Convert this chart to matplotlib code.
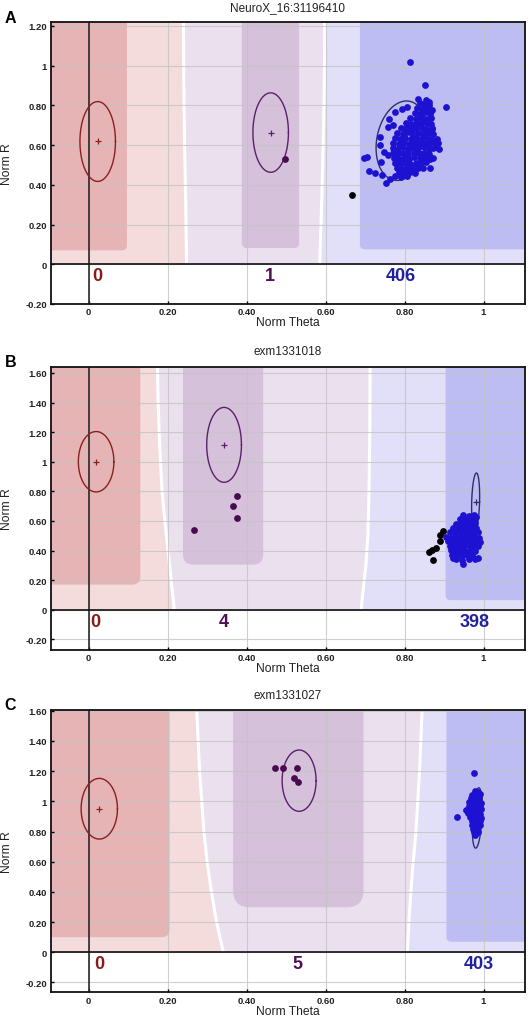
import numpy as np
import matplotlib
matplotlib.use("Agg")
import matplotlib.pyplot as plt
from matplotlib.patches import FancyBboxPatch

plt.rcParams['font.family'] = ['Liberation Sans', 'DejaVu Sans']

# ---------------- data ----------------
titles = ["NeuroX_16:31196410", "exm1331018", "exm1331027"]
panel_letters = ["A", "B", "C"]
genotypes = ["AA", "AB", "BB"]

xticks = [0, 0.2, 0.4, 0.6, 0.8, 1.0]
xtick_labels = ["0", "0.20", "0.40", "0.60", "0.80", "1"]
yticks_A = [-0.2, 0, 0.2, 0.4, 0.6, 0.8, 1.0, 1.2]
ytick_labels_A = ["-0.20", "0", "0.20", "0.40", "0.60", "0.80", "1", "1.20"]
yticks_BC = [-0.2, 0, 0.2, 0.4, 0.6, 0.8, 1.0, 1.2, 1.4, 1.6]
ytick_labels_BC = ["-0.20", "0", "0.20", "0.40", "0.60", "0.80", "1", "1.20", "1.40", "1.60"]

xlim = (-0.096, 1.105)
ylims = [(-0.2, 1.218), (-0.27, 1.642), (-0.265, 1.605)]

# genotype counts and the theta at which they are printed
counts_A = [0, 1, 406]
counts_B = [0, 4, 398]
counts_C = [0, 5, 403]
count_theta_A = [0.022, 0.460, 0.790]
count_theta_B = [0.018, 0.341, 0.978]
count_theta_C = [0.026, 0.529, 0.987]
count_r = [-0.058, -0.079, -0.077]

# cluster ellipses: (center theta, center R, half width, half height, shear)
ell_A = [(0.023, 0.618, 0.045, 0.201, 0.0), (0.461, 0.663, 0.045, 0.200, 0.0), (0.793, 0.622, 0.064, 0.200, 0.012)]
ell_B = [(0.019, 1.000, 0.045, 0.204, 0.0), (0.343, 1.114, 0.044, 0.253, 0.0), (0.980, 0.729, 0.010, 0.195, 0.002)]
ell_C = [(0.027, 0.951, 0.046, 0.201, 0.0), (0.533, 1.137, 0.043, 0.203, 0.0), (0.984, 0.890, 0.012, 0.200, 0.004)]

# call-region boundaries (theta, R) from top down to R = 0
bnd1_A_theta = [0.240, 0.241, 0.243, 0.246, 0.248]
bnd1_A_r = [1.30, 0.9, 0.6, 0.3, 0.0]
bnd2_A_theta = [0.598, 0.597, 0.594, 0.590, 0.585]
bnd2_A_r = [1.30, 0.9, 0.6, 0.3, 0.0]
bnd1_B_theta = [0.174, 0.176, 0.180, 0.186, 0.193, 0.201, 0.209, 0.217]
bnd1_B_r = [1.70, 1.4, 1.1, 0.8, 0.6, 0.4, 0.2, 0.0]
bnd2_B_theta = [0.713, 0.712, 0.710, 0.707, 0.702, 0.696, 0.690]
bnd2_B_r = [1.70, 1.2, 0.8, 0.5, 0.3, 0.15, 0.0]
bnd1_C_theta = [0.272, 0.281, 0.292, 0.300, 0.311, 0.324, 0.341]
bnd1_C_r = [1.70, 1.2, 0.8, 0.6, 0.4, 0.2, 0.0]
bnd2_C_theta = [0.846, 0.838, 0.829, 0.822, 0.816, 0.811, 0.807]
bnd2_C_r = [1.70, 1.2, 0.8, 0.6, 0.4, 0.2, 0.0]

# dark core regions: (left theta, right theta, bottom R)
core_A = [(-0.3, 0.097, 0.070), (0.388, 0.533, 0.082), (0.687, 1.3, 0.075)]
core_B = [(-0.3, 0.131, 0.170), (0.239, 0.442, 0.305), (0.904, 1.3, 0.065)]
core_C = [(-0.3, 0.205, 0.100), (0.366, 0.696, 0.298), (0.906, 1.3, 0.070)]
core_round_px = [(5, 5, 5), (8, 10, 5), (8, 17, 5)]

# samples (theta, R)
A_AB = [(0.497, 0.528)]
A_nc = [(0.668, 0.347)]
A_BB = [
    (0.813, 1.017), (0.853, 0.900), (0.906, 0.790),
    (0.835, 0.831), (0.855, 0.828), (0.793, 0.781), (0.776, 0.765), (0.761, 0.732), (0.758, 0.691),
    (0.738, 0.641), (0.738, 0.600), (0.747, 0.567), (0.704, 0.542), (0.698, 0.534), (0.741, 0.517),
    (0.710, 0.468), (0.725, 0.459), (0.742, 0.451), (0.753, 0.410), (0.763, 0.427), (0.776, 0.443),
    (0.865, 0.484), (0.873, 0.534), (0.877, 0.592), (0.882, 0.633), (0.869, 0.682), (0.865, 0.765),
    (0.852, 0.790), (0.884, 0.612), (0.886, 0.578), (0.862, 0.800), (0.806, 0.790), (0.790, 0.480),
    (0.757, 0.550), (0.770, 0.700),
    (0.838, 0.812), (0.851, 0.806), (0.862, 0.815),
    (0.831, 0.786), (0.845, 0.781), (0.858, 0.789), (0.869, 0.779),
    (0.826, 0.762), (0.839, 0.756), (0.852, 0.764), (0.864, 0.757),
    (0.814, 0.737), (0.829, 0.731), (0.841, 0.739), (0.854, 0.733), (0.866, 0.738),
    (0.803, 0.712), (0.817, 0.707), (0.829, 0.713), (0.842, 0.706), (0.856, 0.712), (0.867, 0.708),
    (0.790, 0.687), (0.804, 0.681), (0.816, 0.689), (0.830, 0.684), (0.843, 0.688), (0.855, 0.680), (0.869, 0.686),
    (0.781, 0.662), (0.795, 0.657), (0.807, 0.664), (0.820, 0.658), (0.834, 0.663), (0.846, 0.656), (0.860, 0.661), (0.872, 0.657),
    (0.776, 0.637), (0.789, 0.632), (0.802, 0.638), (0.816, 0.631), (0.828, 0.636), (0.842, 0.633), (0.854, 0.639), (0.867, 0.632),
    (0.772, 0.612), (0.785, 0.606), (0.798, 0.613), (0.811, 0.607), (0.824, 0.611), (0.837, 0.605), (0.850, 0.612), (0.863, 0.608), (0.875, 0.613),
    (0.770, 0.587), (0.783, 0.582), (0.796, 0.588), (0.809, 0.581), (0.822, 0.586), (0.835, 0.583), (0.848, 0.589), (0.861, 0.581), (0.873, 0.586),
    (0.771, 0.562), (0.784, 0.556), (0.797, 0.561), (0.810, 0.557), (0.823, 0.563), (0.836, 0.558), (0.849, 0.561), (0.862, 0.555),
    (0.773, 0.537), (0.786, 0.531), (0.799, 0.536), (0.812, 0.532), (0.825, 0.538), (0.838, 0.533), (0.851, 0.536), (0.864, 0.531),
    (0.776, 0.512), (0.789, 0.507), (0.802, 0.511), (0.815, 0.506), (0.828, 0.512), (0.841, 0.508), (0.854, 0.513),
    (0.781, 0.487), (0.794, 0.482), (0.807, 0.486), (0.820, 0.481), (0.833, 0.487), (0.846, 0.483),
    (0.787, 0.462), (0.800, 0.457), (0.813, 0.463), (0.826, 0.458),
    (0.792, 0.438), (0.806, 0.442),
    (0.818, 0.596), (0.830, 0.622), (0.806, 0.548), (0.842, 0.547), (0.819, 0.672), (0.843, 0.722),
    (0.794, 0.620), (0.856, 0.598), (0.806, 0.700), (0.828, 0.500), (0.797, 0.524), (0.855, 0.650),
]

B_AB = [(0.268, 0.540), (0.366, 0.703), (0.377, 0.770), (0.375, 0.617)]
B_nc = [(0.897, 0.530), (0.889, 0.505), (0.891, 0.465), (0.879, 0.415), (0.869, 0.404), (0.861, 0.392), (0.873, 0.335)]
B_BB = [
    (0.948, 0.640), (0.962, 0.634), (0.976, 0.642), (0.982, 0.625),
    (0.940, 0.612), (0.952, 0.606), (0.964, 0.613), (0.976, 0.607),
    (0.930, 0.582), (0.942, 0.577), (0.954, 0.584), (0.966, 0.578), (0.978, 0.583),
    (0.922, 0.552), (0.934, 0.547), (0.946, 0.553), (0.958, 0.548), (0.970, 0.554), (0.982, 0.549),
    (0.915, 0.522), (0.927, 0.517), (0.939, 0.523), (0.951, 0.518), (0.963, 0.524), (0.975, 0.519), (0.987, 0.522),
    (0.905, 0.492), (0.917, 0.487), (0.929, 0.493), (0.941, 0.488), (0.953, 0.494), (0.965, 0.489), (0.977, 0.492), (0.989, 0.487),
    (0.910, 0.462), (0.922, 0.457), (0.934, 0.463), (0.946, 0.458), (0.958, 0.464), (0.970, 0.459), (0.982, 0.462), (0.990, 0.456),
    (0.914, 0.432), (0.926, 0.427), (0.938, 0.433), (0.950, 0.428), (0.962, 0.434), (0.974, 0.429), (0.986, 0.431),
    (0.918, 0.402), (0.930, 0.397), (0.942, 0.403), (0.954, 0.398), (0.966, 0.404), (0.978, 0.399),
    (0.920, 0.372), (0.933, 0.367), (0.946, 0.373), (0.958, 0.368), (0.970, 0.372),
    (0.930, 0.342), (0.945, 0.336), (0.962, 0.345), (0.978, 0.340),
    (0.948, 0.312), (0.922, 0.352), (0.985, 0.350),
    (0.945, 0.505), (0.958, 0.478), (0.935, 0.445), (0.968, 0.418), (0.952, 0.565), (0.925, 0.385),
]

C_AB = [(0.473, 1.219), (0.492, 1.219), (0.527, 1.219), (0.519, 1.152), (0.531, 1.126)]
C_nc = []
C_BB = [
    (0.976, 1.186), (0.934, 0.895),
    (0.978, 1.070), (0.986, 1.064),
    (0.972, 1.045), (0.982, 1.041), (0.990, 1.047),
    (0.968, 1.020), (0.978, 1.016), (0.988, 1.022),
    (0.964, 0.995), (0.974, 0.991), (0.984, 0.997), (0.993, 0.992),
    (0.962, 0.970), (0.972, 0.966), (0.982, 0.972), (0.992, 0.967),
    (0.955, 0.945), (0.965, 0.941), (0.975, 0.947), (0.985, 0.942), (0.994, 0.946),
    (0.960, 0.920), (0.970, 0.916), (0.980, 0.922), (0.990, 0.917),
    (0.966, 0.895), (0.976, 0.891), (0.986, 0.897), (0.993, 0.892),
    (0.970, 0.870), (0.980, 0.866), (0.990, 0.871),
    (0.972, 0.845), (0.982, 0.841), (0.990, 0.846),
    (0.974, 0.820), (0.984, 0.816),
    (0.976, 0.795), (0.986, 0.799),
    (0.979, 0.775),
]

# which cluster centres show a '+'
show_center = [(True, True, False), (True, True, True), (True, False, False)]

# ---------------- style ----------------
light_fill = ["#f4dcdc", "#ebe1ee", "#e1e0f8"]
dark_fill = ["#e6b4b4", "#d5c1da", "#bdbdf4"]
ell_colors = ["#8a1f1f", "#5b1f6b", "#2e2e6e"]
count_colors = ["#8b1a1a", "#4e1050", "#22209c"]
pt_colors = {"AB": "#4a0a50", "BB": "#1d12d2", "nc": "#000000"}

W, H = 530, 1020
fig = plt.figure(figsize=(W / 100, H / 100), dpi=100)

# axes boxes in pixels (left, top, right, bottom)
boxes = [(50.7, 23.3, 525.0, 305.0), (50.7, 367.7, 525.0, 650.7), (50.7, 711.0, 525.0, 993.3)]

panels = [
    dict(ell=ell_A, counts=counts_A, ctheta=count_theta_A, b1=(bnd1_A_theta, bnd1_A_r), b2=(bnd2_A_theta, bnd2_A_r),
         core=core_A, AB=A_AB, BB=A_BB, nc=A_nc, yt=yticks_A, ytl=ytick_labels_A),
    dict(ell=ell_B, counts=counts_B, ctheta=count_theta_B, b1=(bnd1_B_theta, bnd1_B_r), b2=(bnd2_B_theta, bnd2_B_r),
         core=core_B, AB=B_AB, BB=B_BB, nc=B_nc, yt=yticks_BC, ytl=ytick_labels_BC),
    dict(ell=ell_C, counts=counts_C, ctheta=count_theta_C, b1=(bnd1_C_theta, bnd1_C_r), b2=(bnd2_C_theta, bnd2_C_r),
         core=core_C, AB=C_AB, BB=C_BB, nc=C_nc, yt=yticks_BC, ytl=ytick_labels_BC),
]

t = np.linspace(0, 2 * np.pi, 240)

for i, p in enumerate(panels):
    l, tp, r, b = boxes[i]
    ax = fig.add_axes([l / W, 1 - b / H, (r - l) / W, (b - tp) / H])
    ylim = ylims[i]
    ax.set_xlim(*xlim)
    ax.set_ylim(*ylim)
    ax.set_facecolor("white")

    px_theta = (r - l) / (xlim[1] - xlim[0])
    px_r = (b - tp) / (ylim[1] - ylim[0])
    asp = px_theta / px_r

    # light call regions
    b1t, b1r = p["b1"]
    b2t, b2r = p["b2"]
    ax.fill_betweenx(b1r, xlim[0] - 0.2, b1t, color=light_fill[0], lw=0, zorder=0.1)
    ax.fill(list(b1t) + list(b2t)[::-1], list(b1r) + list(b2r)[::-1], color=light_fill[1], lw=0, zorder=0.1)
    ax.fill_betweenx(b2r, b2t, xlim[1] + 0.2, color=light_fill[2], lw=0, zorder=0.1)

    # dark cores
    for k, (x0, x1, yb) in enumerate(p["core"]):
        rs = core_round_px[i][k] / px_theta
        patch = FancyBboxPatch((x0, yb), x1 - x0, ylim[1] + 0.5 - yb,
                               boxstyle=f"round,pad=0,rounding_size={rs}",
                               mutation_aspect=asp, fc=dark_fill[k], ec="none", zorder=0.2)
        ax.add_patch(patch)

    # white separators
    ax.plot(b1t, b1r, color="white", lw=2.2, zorder=0.3, solid_capstyle="butt")
    ax.plot(b2t, b2r, color="white", lw=2.2, zorder=0.3, solid_capstyle="butt")

    # grid
    ax.set_axisbelow(True)
    ax.grid(True, color="#c4c4c4", lw=0.8, alpha=0.8)

    ax.axvline(0, color="#1a1a1a", lw=1.1, zorder=1)
    ax.axhline(0, color="#111111", lw=1.2, zorder=1)

    # ellipses and centres
    for k, (cx, cy, hw, hh, sh) in enumerate(p["ell"]):
        ex = cx + hw * np.cos(t) + sh * np.sin(t)
        ey = cy + hh * np.sin(t)
        ax.plot(ex, ey, color=ell_colors[k], lw=1.0, zorder=2)
        if show_center[i][k]:
            ax.plot([cx], [cy], marker="+", ms=5, mew=0.9, color=ell_colors[k], zorder=2.5, ls="none")

    # samples
    for key in ["AB", "nc", "BB"]:
        pts = p[key]
        if pts:
            xs = [q[0] for q in pts]
            ys = [q[1] for q in pts]
            ax.scatter(xs, ys, s=24, color=pt_colors[key], lw=0, zorder=3)

    # counts
    for k in range(3):
        ax.text(p["ctheta"][k], count_r[i], str(p["counts"][k]), color=count_colors[k],
                fontsize=13, fontweight="bold", ha="center", va="center", zorder=4)

    # ticks
    ax.set_xticks(xticks)
    ax.set_xticklabels(xtick_labels, fontsize=6.8, fontweight="bold", color="#222222")
    ax.set_yticks(p["yt"])
    ax.set_yticklabels(p["ytl"], fontsize=6.8, fontweight="bold", color="#222222")
    ax.tick_params(direction="in", length=2.5, width=1.0, pad=2.5, color="black")
    for sp in ax.spines.values():
        sp.set_linewidth(1.3)
        sp.set_color("#111111")
        sp.set_zorder(5)

    # titles, labels and panel letters
    cxp = (l + r) / 2
    fig.text(cxp / W, 1 - (tp - 15.3) / H, titles[i], fontsize=8.5, ha="center", va="center", color="#222222")
    fig.text(cxp / W, 1 - (b + 18.5) / H, "Norm Theta", fontsize=8.7, ha="center", va="center", color="#222222")
    fig.text(7 / W, 1 - ((tp + b) / 2) / H, "Norm R", fontsize=8.7, ha="center", va="center",
             rotation=90, color="#222222")
    fig.text(10.5 / W, 1 - (tp - 5) / H, panel_letters[i], fontsize=11.5, fontweight="bold",
             ha="center", va="center", color="black")

fig.savefig("out.png", dpi=100)
